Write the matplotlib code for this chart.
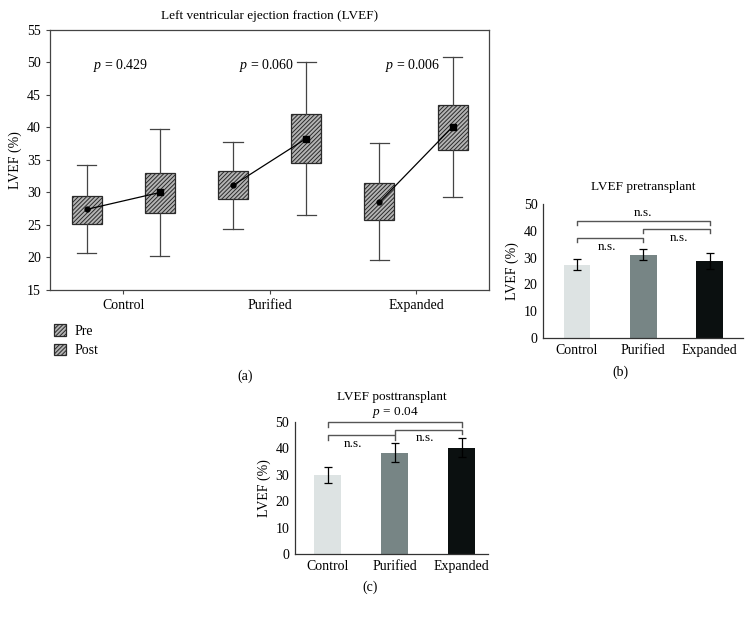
import matplotlib
matplotlib.use("Agg")
import matplotlib.pyplot as plt
from matplotlib.patches import Patch

plt.rcParams['font.family'] = ['Liberation Serif', 'DejaVu Serif']
plt.rcParams['mathtext.fontset'] = 'custom'
plt.rcParams['mathtext.it'] = 'Liberation Serif:italic'
plt.rcParams['mathtext.rm'] = 'Liberation Serif'
plt.rcParams['hatch.linewidth'] = 0.7

groups = ['Control', 'Purified', 'Expanded']

# panel (a): box stats pre / post
pre_lo = [20.7, 24.4, 19.6]
pre_q1 = [25.2, 29.0, 25.7]
pre_mean = [27.4, 31.1, 28.5]
pre_q3 = [29.5, 33.3, 31.5]
pre_hi = [34.2, 37.8, 37.6]

post_lo = [20.2, 26.6, 29.3]
post_q1 = [26.8, 34.5, 36.6]
post_mean = [30.0, 38.3, 40.1]
post_q3 = [33.0, 42.0, 43.5]
post_hi = [39.7, 50.0, 50.9]

p_vals = ['0.429', '0.060', '0.006']

# panel (b) and (c): means with error
pre_bar = [27.3, 31.1, 28.7]
pre_err = [2.1, 2.1, 2.9]
post_bar = [29.9, 38.4, 40.2]
post_err = [3.1, 3.7, 3.6]
bar_colors = ['#dde3e3', '#778585', '#0b1010']

fig = plt.figure(figsize=(7.52, 6.17), dpi=100)

# ---------- (a) ----------
ax = fig.add_axes([0.0665, 0.530, 0.584, 0.4214])
stats = []
pos = []
for i in range(3):
    stats.append(dict(whislo=pre_lo[i], q1=pre_q1[i], med=pre_mean[i], q3=pre_q3[i],
                      whishi=pre_hi[i], mean=pre_mean[i], fliers=[]))
    pos.append(i - 0.25)
    stats.append(dict(whislo=post_lo[i], q1=post_q1[i], med=post_mean[i], q3=post_q3[i],
                      whishi=post_hi[i], mean=post_mean[i], fliers=[]))
    pos.append(i + 0.25)

box_style = dict(facecolor='#b4b4b4', edgecolor='#2a2a2a', linewidth=0.9, hatch='////////')
bp = ax.bxp(stats, positions=pos, widths=0.205, patch_artist=True, showfliers=False,
            capwidths=0.13,
            boxprops=box_style,
            whiskerprops=dict(color='#444444', linewidth=0.9),
            capprops=dict(color='#444444', linewidth=0.9),
            medianprops=dict(linewidth=0))

for i in range(3):
    ax.plot([i - 0.25, i + 0.25], [pre_mean[i], post_mean[i]], color='black', lw=0.9, zorder=4)
    ax.plot(i - 0.25, pre_mean[i], 'o', color='black', ms=3.5, zorder=5)
    ax.plot(i + 0.25, post_mean[i], 's', color='black', ms=4, zorder=5)
    ax.text(i - 0.02, 49.6, r'$p$ = ' + p_vals[i], ha='center', va='center', fontsize=10)

ax.set_xlim(-0.5, 2.5)
ax.set_ylim(15, 55)
ax.set_yticks(range(15, 56, 5))
ax.set_xticks(range(3))
ax.set_xticklabels(groups)
ax.tick_params(labelsize=10, length=3, width=0.8, color='#444444')
ax.set_ylabel('LVEF (%)', fontsize=10)
ax.set_title('Left ventricular ejection fraction (LVEF)', fontsize=9.5, pad=8)
for s in ax.spines.values():
    s.set_color('#444444')
    s.set_linewidth(0.9)

handles = [Patch(label='Pre', **box_style), Patch(label='Post', **box_style)]
fig.legend(handles=handles, loc='upper left', bbox_to_anchor=(0.055, 0.495), frameon=False,
           fontsize=10, handlelength=0.9, handleheight=0.9, labelspacing=0.45, handletextpad=0.6)
fig.text(245 / 752, 1 - 376 / 617, '(a)', ha='center', va='center', fontsize=10)


def bracket(a, x1, x2, ytop, yend, color='#555555'):
    a.plot([x1, x1, x2, x2], [yend, ytop, ytop, yend], color=color, lw=1.0, clip_on=False)


def bar_panel(rect, vals, errs, xlim):
    a = fig.add_axes(rect)
    x = range(3)
    a.bar(x, vals, width=0.4, color=bar_colors)
    a.errorbar(x, vals, yerr=errs, fmt='none', ecolor='black', elinewidth=0.9, capsize=3, capthick=0.9)
    a.set_xlim(*xlim)
    a.set_ylim(0, 50)
    a.set_yticks(range(0, 51, 10))
    a.set_xticks(list(x))
    a.set_xticklabels(groups)
    a.tick_params(labelsize=10, length=0, pad=4)
    a.spines['top'].set_visible(False)
    a.spines['right'].set_visible(False)
    for s in ['left', 'bottom']:
        a.spines[s].set_color('#333333')
        a.spines[s].set_linewidth(0.9)
    a.set_ylabel('LVEF (%)', fontsize=10, labelpad=3)
    return a


# ---------- (b) ----------
axb = bar_panel([0.722, 0.4522, 0.266, 0.2172], pre_bar, pre_err, (-0.51, 2.5))
axb.set_title('LVEF pretransplant', fontsize=9.5, pad=10)
bracket(axb, 0, 2, 43.7, 42.3)
axb.text(1, 46.8, 'n.s.', ha='center', va='center', fontsize=9.5)
bracket(axb, 0, 1, 37.3, 35.9)
axb.text(0.45, 33.9, 'n.s.', ha='center', va='center', fontsize=9.5)
bracket(axb, 1, 2, 40.7, 39.2)
axb.text(1.53, 37.4, 'n.s.', ha='center', va='center', fontsize=9.5)
fig.text(620 / 752, 1 - 372 / 617, '(b)', ha='center', va='center', fontsize=10)

# ---------- (c) ----------
axc = bar_panel([0.392, 0.1021, 0.257, 0.2139], post_bar, post_err, (-0.49, 2.39))
axc.set_title('LVEF posttransplant', fontsize=9.5, pad=16)
bracket(axc, 0, 2, 50.0, 48.0)
axc.text(1, 53.6, r'$p$ = 0.04', ha='center', va='center', fontsize=9.5)
bracket(axc, 0, 1, 45.0, 43.2)
axc.text(0.37, 41.8, 'n.s.', ha='center', va='center', fontsize=9.5)
bracket(axc, 1, 2, 47.0, 45.3)
axc.text(1.45, 44.0, 'n.s.', ha='center', va='center', fontsize=9.5)
fig.text(370 / 752, 1 - 587 / 617, '(c)', ha='center', va='center', fontsize=10)

fig.savefig('out.png', dpi=100)
